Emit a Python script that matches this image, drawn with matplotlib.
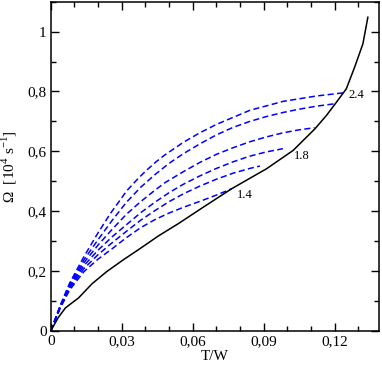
import matplotlib
matplotlib.use("Agg")
import matplotlib.pyplot as plt
from matplotlib.ticker import MultipleLocator

plt.rcParams['font.family'] = ['Liberation Serif', 'DejaVu Serif']
plt.rcParams['mathtext.fontset'] = 'custom'
plt.rcParams['mathtext.rm'] = 'Liberation Serif'

# black curve (limit sequence)
tw_black = [0, 0.0032, 0.0062, 0.0095, 0.0117, 0.0175, 0.0236, 0.0307, 0.0377, 0.0454, 0.0542,
            0.063, 0.0764, 0.0912, 0.1024, 0.1116, 0.1165, 0.1207, 0.1249, 0.1284, 0.1319, 0.134]
om_black = [0, 0.045, 0.077, 0.097, 0.11, 0.158, 0.198, 0.238, 0.275, 0.317, 0.360,
            0.406, 0.475, 0.542, 0.603, 0.675, 0.72, 0.764, 0.809, 0.881, 0.959, 1.048]

# blue dashed sequences (bottom to top)
tw_c1 = [0, 0.004, 0.008, 0.014, 0.02, 0.026, 0.032, 0.038, 0.044, 0.050, 0.056, 0.063, 0.070, 0.0764]
om_c1 = [0, 0.076, 0.137, 0.198, 0.24, 0.275, 0.312, 0.345, 0.372, 0.394, 0.413, 0.433, 0.454, 0.475]
tw_c2 = [0, 0.004, 0.008, 0.014, 0.02, 0.026, 0.032, 0.038, 0.044, 0.050, 0.056, 0.063, 0.070, 0.077,
         0.0841, 0.0884]
om_c2 = [0, 0.078, 0.142, 0.208, 0.255, 0.295, 0.333, 0.37, 0.402, 0.432, 0.458, 0.484, 0.507, 0.527,
         0.543, 0.551]
tw_c3 = [0, 0.004, 0.008, 0.014, 0.02, 0.026, 0.032, 0.038, 0.044, 0.050, 0.056, 0.063, 0.070, 0.077,
         0.0841, 0.091, 0.0981]
om_c3 = [0, 0.08, 0.146, 0.218, 0.27, 0.315, 0.355, 0.395, 0.43, 0.462, 0.49, 0.518, 0.543, 0.565,
         0.584, 0.598, 0.609]
tw_c4 = [0, 0.004, 0.008, 0.014, 0.02, 0.026, 0.032, 0.038, 0.044, 0.0482, 0.056, 0.063, 0.070, 0.077,
         0.0841, 0.091, 0.0982, 0.105, 0.1115]
om_c4 = [0, 0.081, 0.15, 0.228, 0.287, 0.34, 0.39, 0.432, 0.47, 0.495, 0.532, 0.563, 0.59, 0.612,
         0.632, 0.648, 0.662, 0.672, 0.679]
tw_c5 = [0, 0.004, 0.008, 0.014, 0.02, 0.026, 0.032, 0.038, 0.044, 0.050, 0.056, 0.063, 0.070, 0.077,
         0.0841, 0.091, 0.0982, 0.105, 0.1123, 0.12]
om_c5 = [0, 0.083, 0.155, 0.237, 0.305, 0.37, 0.43, 0.48, 0.522, 0.56, 0.592, 0.625, 0.655, 0.68,
         0.70, 0.716, 0.73, 0.741, 0.751, 0.759]
tw_c6 = [0, 0.004, 0.008, 0.0138, 0.0194, 0.025, 0.0321, 0.037, 0.0405, 0.0445, 0.0482, 0.056, 0.063,
         0.070, 0.0841, 0.0982, 0.1123, 0.1242]
om_c6 = [0, 0.085, 0.16, 0.245, 0.32, 0.39, 0.468, 0.51, 0.537, 0.565, 0.588, 0.630, 0.662,
         0.69, 0.737, 0.767, 0.785, 0.796]

labels = ["1.4", "1.8", "2.4"]
label_x = [0.082, 0.106, 0.129]
label_y = [0.453, 0.586, 0.789]

xticks = [0, 0.03, 0.06, 0.09, 0.12]
xticklabels = ["0", "0,03", "0,06", "0,09", "0,12"]
yticks = [0, 0.2, 0.4, 0.6, 0.8, 1.0]
yticklabels = ["0", "0,2", "0,4", "0,6", "0,8", "1"]

fig = plt.figure(figsize=(3.82, 3.66), dpi=100)
ax = fig.add_axes([0.1327, 0.0956, 0.8594, 0.8998])

for xs, ys in [(tw_c1, om_c1), (tw_c2, om_c2), (tw_c3, om_c3),
               (tw_c4, om_c4), (tw_c5, om_c5), (tw_c6, om_c6)]:
    ax.plot(xs, ys, color='#0000ff', lw=1.1, dashes=(4, 2.2), solid_joinstyle='round')
ax.plot(tw_black, om_black, color='black', lw=1.1, solid_joinstyle='round')

for t, x, y in zip(labels, label_x, label_y):
    ax.text(x, y, t, fontsize=9, ha='center', va='center')

ax.set_xlim(0, 0.1387)
ax.set_ylim(0, 1.1)
ax.set_xticks(xticks)
ax.set_xticklabels(xticklabels)
ax.set_yticks(yticks)
ax.set_yticklabels(yticklabels)
ax.xaxis.set_minor_locator(MultipleLocator(0.01))
ax.yaxis.set_minor_locator(MultipleLocator(0.1))
ax.tick_params(which='both', direction='in', top=True, right=True, labelsize=11, width=1)
ax.tick_params(which='major', length=6, pad=3)
ax.tick_params(which='minor', length=3.5)
for s in ax.spines.values():
    s.set_linewidth(1.1)

ax.set_xlabel("T/W", fontsize=11, labelpad=1)
ax.set_ylabel(r"$\Omega$  [10$^{4}$ s$^{-1}$]", fontsize=11, labelpad=6)

fig.savefig("out.png", dpi=100)
